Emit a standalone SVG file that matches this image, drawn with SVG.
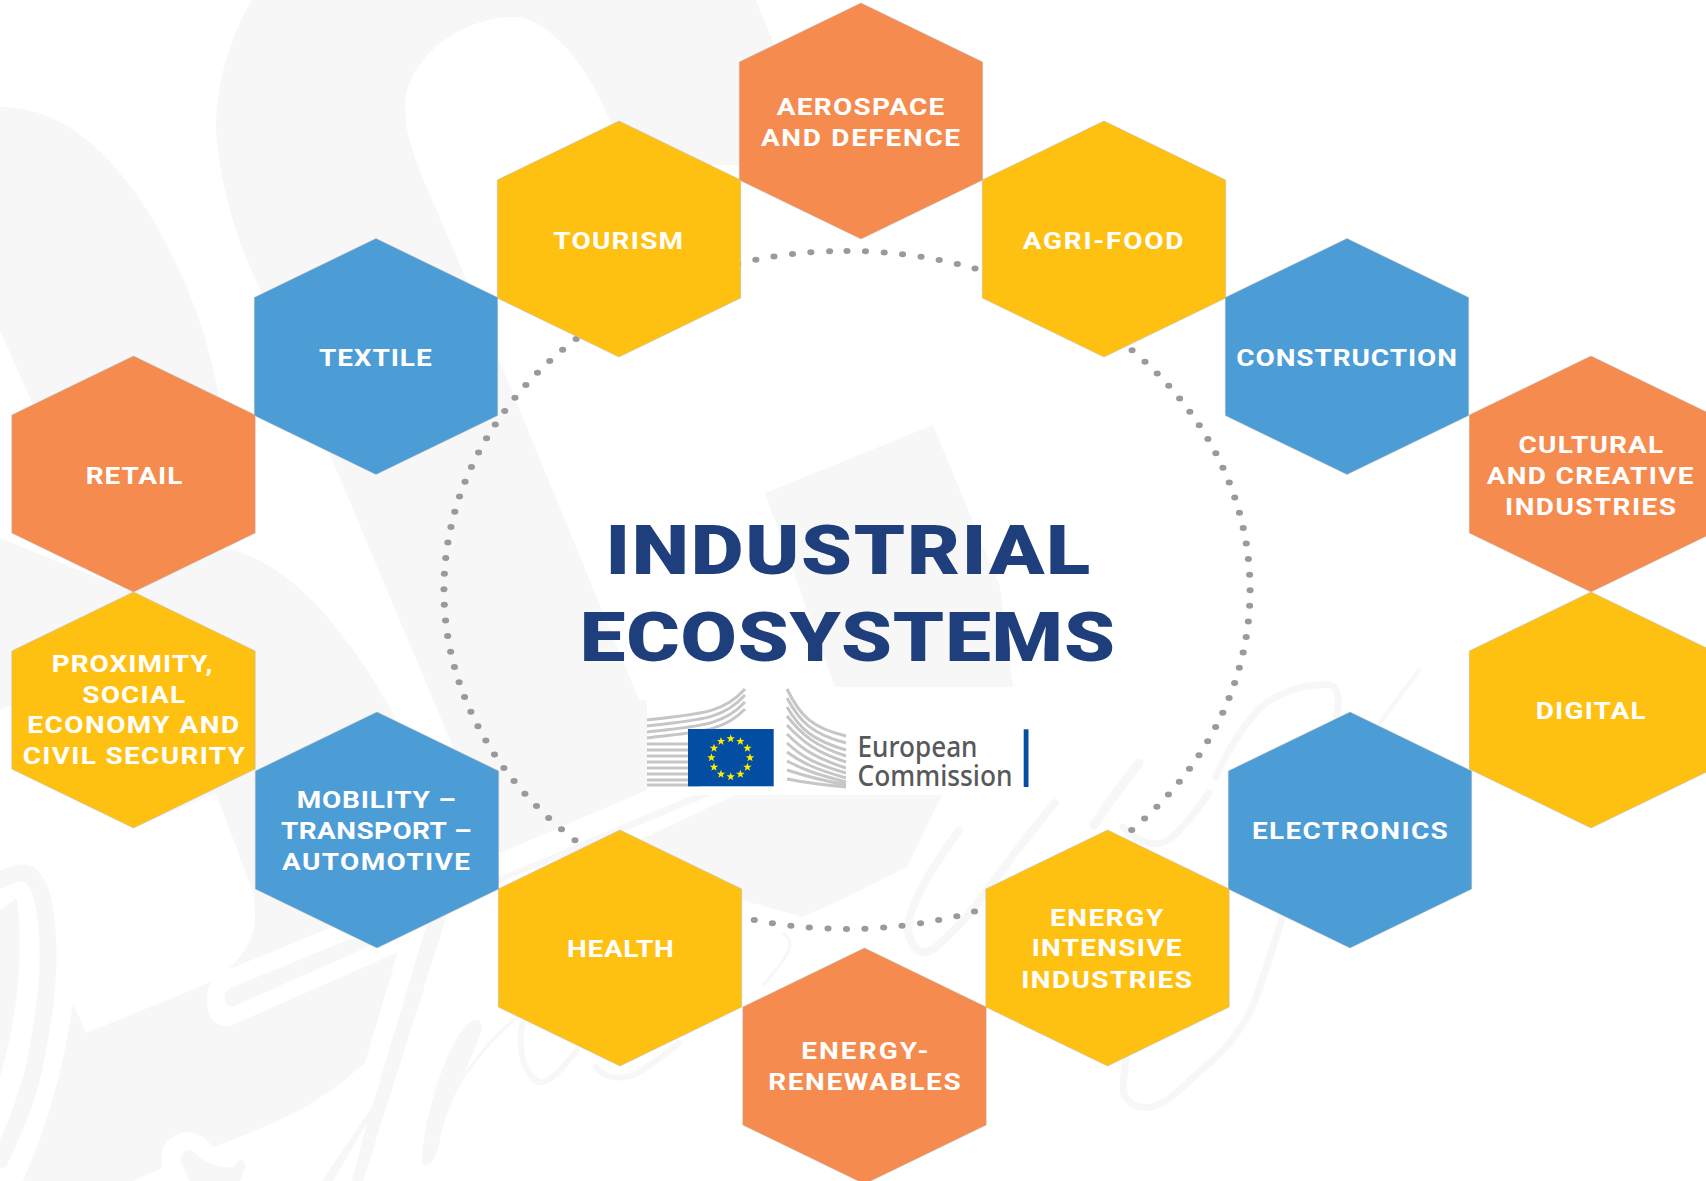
<svg xmlns="http://www.w3.org/2000/svg" width="1706" height="1181" viewBox="0 0 1706 1181">
<style>
.bg{fill:#f7f7f7;stroke:none}
.bs{fill:none;stroke:#f7f7f7;stroke-linecap:round;stroke-linejoin:round}
.hex{stroke:#b8b8b8;stroke-width:.7;stroke-opacity:.7}
.o{fill:#f68b4f}.y{fill:#ffc111}.b{fill:#4c9cd6}
.l{font-family:"Roboto","Liberation Sans",sans-serif;font-weight:700;font-size:23.5px;fill:#fff;text-anchor:middle}
.t{font-family:"Roboto","Liberation Sans",sans-serif;font-weight:900;font-size:68.5px;fill:#1e3f7b;text-anchor:middle}
.ec{font-family:"Noto Sans","Liberation Sans",sans-serif;font-weight:500;font-size:28px;fill:#58595b}
.st{fill:none;stroke:#c6c6c8;stroke-width:3}
.dots{fill:none;stroke:#9a9a9e;stroke-width:6;stroke-linecap:round;stroke-dasharray:0 15.662}
</style>
<defs>
<polygon id="h" points="0,-118 121.7,-59 121.7,59 0,118 -121.7,59 -121.7,-59"/>
<polygon id="s" fill="#ffed00" points="0,-4.4 1.05,-1.4 4.2,-1.4 1.7,.55 2.6,3.6 0,1.8 -2.6,3.6 -1.7,.55 -4.2,-1.4 -1.05,-1.4"/>
</defs>
<rect width="1706" height="1181" fill="#fff"/>
<g id="background">
<path class="bg" d="M252,0C222,50 216,100 216,130C220,190 240,250 262,293L453,747L500,853L647,790L647,700L639,700L465,277C430,190 405,150 405,107C405,60 460,17 514,17C550,17 590,70 611,123L640,165L745,165L780,60L756,0Z"/>
<path class="bg" d="M0,107C50,107 97,135 145,207C190,280 215,350 225,440L160,450L34,407L0,330Z"/>
<path class="bg" d="M0,538L133,592L227,548C290,565 340,620 393,713L420,850L330,928L227,970C245,955 255,935 255,917C255,905 254,898 253,893L216,793L133,828L12,705L0,710Z"/>
<path class="bg" d="M73,1003L86,1033L197,988L213,980C205,990 205,1012 213,1020C218,1026 224,1027 230,1026L398,952L365,1063C340,1085 320,1098 300,1110C270,1125 240,1137 213,1147C205,1137 195,1132 187,1132C175,1133 162,1143 162,1153L162,1168L133,1181L23,1181C50,1120 65,1060 73,1003Z"/>
<path class="bg" d="M230,988L353,938L372,945L232,1007C224,1007 221,993 230,988Z"/>
<path class="bg" d="M180,1160C183,1150 190,1148 195,1153C203,1163 220,1168 233,1167C238,1158 245,1158 245,1167L240,1181L190,1181Z"/>
<path class="bg" d="M428,920L447,915L363,1181L352,1181L367,1123L333,1181L322,1181L372,1107Z"/>
<path class="bg" d="M470,1022C480,1015 485,1025 480,1035C465,1075 445,1110 440,1140C437,1160 428,1168 423,1165C420,1160 425,1110 448,1055C458,1035 462,1030 470,1022Z"/>
<path class="bs" stroke-width="3" d="M448,1107C460,1075 490,1040 517,1017"/>
<path class="bg" d="M693,795L499,877L499,883L712,795Z"/>
<path class="bg" d="M765,493L933,425L1000,587L1013,687L835,687Z"/>
<path class="bg" d="M735,795L942,795L907,867L847,897L803,917L741,900L640,840Z"/>
<path class="bs" stroke-width="17" d="M0,880C10,875 22,870 30,875C42,885 47,910 48,950C49,990 40,1040 33,1073C25,1105 12,1135 0,1160"/>
<path class="bg" d="M0,910L17,898C20,920 21,960 17,993C14,1020 8,1050 0,1077Z"/>
<path class="bs" stroke-width="6" d="M523,1023C518,1040 520,1070 538,1082C550,1085 565,1065 577,1050"/>
<path class="bs" stroke-width="6" d="M596,1067C605,1080 625,1080 640,1072C655,1062 668,1052 679,1043"/>
<path class="bs" stroke-width="3" d="M783,933C795,942 793,952 763,985"/>
<path class="bs" stroke-width="8" d="M959,830C945,850 933,868 926,880C912,905 906,925 909,935C915,955 925,955 935,948C955,930 975,910 987,890C1010,860 1035,825 1055,803"/>
<path class="bs" stroke-width="9" d="M1139,763L1116,793L1094,825"/>
<path class="bs" stroke-width="7" d="M1209,793C1190,820 1175,838 1162,843C1150,846 1135,840 1123,827"/>
<path class="bs" stroke-width="4" d="M1419,670L1380,723"/>
<path class="bs" stroke-width="7" d="M1216,777C1225,755 1245,720 1266,703C1285,690 1310,683 1330,685C1340,688 1340,705 1334,727"/>
<path class="bs" stroke-width="7" d="M1284,913C1270,955 1262,985 1251,1010C1235,1040 1220,1055 1201,1070C1180,1090 1165,1105 1151,1107C1130,1110 1122,1095 1123,1087L1126,1057"/>
<rect x="647" y="687" width="430" height="108" fill="#fff"/>
</g>
<g id="connectors">
<path class="dots" transform="translate(847 590) scale(1.189 1)" d="M0,-339A339,339 0 1 1 0,339A339,339 0 1 1 0,-339"/>
</g>
<g id="node-aerospace"><use href="#h" class="hex o" x="861" y="121"/><text class="l" transform="matrix(1.19 0 0 1 860.5 114.9)" textLength="140.9">AEROSPACE</text><text class="l" transform="matrix(1.19 0 0 1 860.5 146)" textLength="167.4">AND DEFENCE</text></g>
<g id="node-tourism"><use href="#h" class="hex y" x="619" y="239"/><text class="l" transform="matrix(1.19 0 0 1 618.2 249)" textLength="109">TOURISM</text></g>
<g id="node-agri-food"><use href="#h" class="hex y" x="1104" y="239"/><text class="l" transform="matrix(1.19 0 0 1 1103 249)" textLength="135">AGRI-FOOD</text></g>
<g id="node-textile"><use href="#h" class="hex b" x="376" y="356.5"/><text class="l" transform="matrix(1.19 0 0 1 375.3 366)" textLength="94.7">TEXTILE</text></g>
<g id="node-construction"><use href="#h" class="hex b" x="1347" y="356.5"/><text class="l" transform="matrix(1.19 0 0 1 1346.6 365.7)" textLength="185.5">CONSTRUCTION</text></g>
<g id="node-retail"><use href="#h" class="hex o" x="133.5" y="474"/><text class="l" transform="matrix(1.19 0 0 1 134 484)" textLength="81.3">RETAIL</text></g>
<g id="node-cultural"><use href="#h" class="hex o" x="1591" y="474"/><text class="l" transform="matrix(1.19 0 0 1 1590.9 453)" textLength="121.5">CULTURAL</text><text class="l" transform="matrix(1.19 0 0 1 1590.1 484)" textLength="173.9">AND CREATIVE</text><text class="l" transform="matrix(1.19 0 0 1 1590.5 514.7)" textLength="143.5">INDUSTRIES</text></g>
<g id="node-proximity"><use href="#h" class="hex y" x="133.5" y="710"/><text class="l" transform="matrix(1.19 0 0 1 132 671.8)" textLength="135">PROXIMITY,</text><text class="l" transform="matrix(1.19 0 0 1 133.7 703.3)" textLength="86.3">SOCIAL</text><text class="l" transform="matrix(1.19 0 0 1 133.2 733.1)" textLength="177.9">ECONOMY AND</text><text class="l" transform="matrix(1.19 0 0 1 133.8 763.8)" textLength="186.8">CIVIL SECURITY</text></g>
<g id="node-digital"><use href="#h" class="hex y" x="1591" y="710"/><text class="l" transform="matrix(1.19 0 0 1 1590.7 719.2)" textLength="92.4">DIGITAL</text></g>
<g id="node-mobility"><use href="#h" class="hex b" x="377" y="830"/><text class="l" transform="matrix(1.19 0 0 1 376.3 807.6)" textLength="133.9">MOBILITY –</text><text class="l" transform="matrix(1.19 0 0 1 376.3 839.1)" textLength="160.1">TRANSPORT –</text><text class="l" transform="matrix(1.19 0 0 1 376 869.8)" textLength="158">AUTOMOTIVE</text></g>
<g id="node-electronics"><use href="#h" class="hex b" x="1350" y="830"/><text class="l" transform="matrix(1.19 0 0 1 1349.9 839.3)" textLength="164.5">ELECTRONICS</text></g>
<g id="node-health"><use href="#h" class="hex y" x="620" y="948"/><text class="l" transform="matrix(1.19 0 0 1 620.4 957.3)" textLength="89.6">HEALTH</text></g>
<g id="node-energy-intensive"><use href="#h" class="hex y" x="1107.5" y="948"/><text class="l" transform="matrix(1.19 0 0 1 1106.6 926)" textLength="95.3">ENERGY</text><text class="l" transform="matrix(1.19 0 0 1 1106.6 956.2)" textLength="126">INTENSIVE</text><text class="l" transform="matrix(1.19 0 0 1 1106.6 988.1)" textLength="143.5">INDUSTRIES</text></g>
<g id="node-energy-renewables"><use href="#h" class="hex o" x="864.5" y="1066"/><text class="l" transform="matrix(1.19 0 0 1 864.9 1059)" textLength="107.1">ENERGY-</text><text class="l" transform="matrix(1.19 0 0 1 864.4 1089.9)" textLength="161.7">RENEWABLES</text></g>
<g id="title"><text class="t" transform="matrix(1.19 0 0 1 847.9 574)" textLength="407.4">INDUSTRIAL</text><text class="t" transform="matrix(1.19 0 0 1 847.3 660.7)" textLength="449.8">ECOSYSTEMS</text></g>
<g id="logo">
<path class="st" d="M647,720C695,714 722,715 745,689M647,726C695,720 722,721 745,695M647,732C695,726 722,727 745,702M647,738C695,732 722,733 745,709M647,744H700M647,750H700M647,756H700M647,762H700M647,768H700M647,774H700M647,780H700M647,785H700"/>
<path class="st" d="M787,689C800,716 812,728 846,736M787,698C800,722 812,734 846,743M787,707C800,729 812,740 846,750M787,716C802,735 815,746 846,756M787,725C802,741 815,752 846,762M787,734C802,749 815,758 846,768M787,743C802,757 815,764 846,773M787,752C802,763 815,769 846,778M787,761C802,769 815,774 846,782M787,770C802,775 815,779 846,785M787,779C802,782 815,784 846,787"/>
<rect x="688" y="729" width="85.7" height="57.3" fill="#034ea2"/>
<use href="#s" x="730.7" y="738.7"/><use href="#s" x="740.4" y="741.3"/><use href="#s" x="747.4" y="748.2"/><use href="#s" x="750" y="757.7"/><use href="#s" x="747.4" y="767.2"/><use href="#s" x="740.4" y="774.1"/><use href="#s" x="730.7" y="776.7"/><use href="#s" x="721" y="774.1"/><use href="#s" x="714" y="767.2"/><use href="#s" x="711.4" y="757.7"/><use href="#s" x="714" y="748.2"/><use href="#s" x="721" y="741.3"/>
<text class="ec" x="857.5" y="757" textLength="120" lengthAdjust="spacingAndGlyphs">European</text>
<text class="ec" x="857.5" y="786" textLength="155" lengthAdjust="spacingAndGlyphs">Commission</text>
<rect x="1023.7" y="729.3" width="4.8" height="57.7" fill="#034ea2"/>
</g>
</svg>
